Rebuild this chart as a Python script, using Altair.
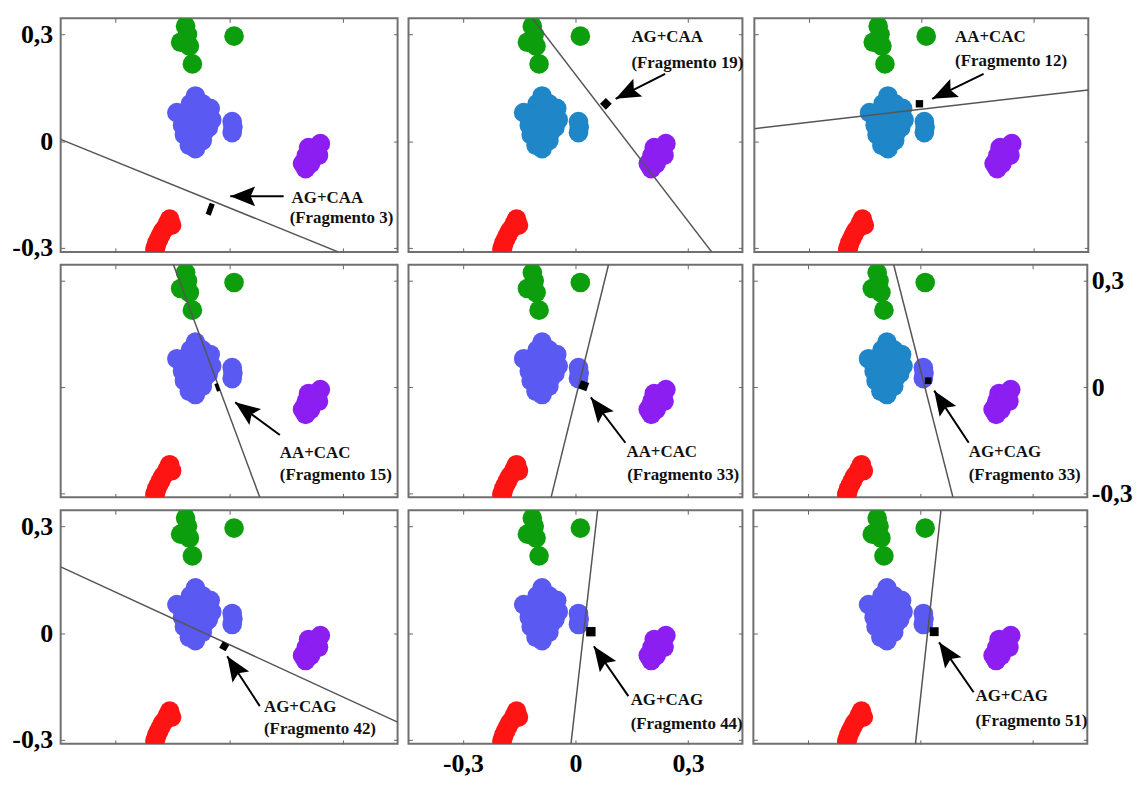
import math
import altair as alt
import pandas as pd

# ---------------- data ----------------
green_x = [-0.115, -0.110, -0.128, -0.105, -0.097, 0.013]
green_y = [0.323, 0.300, 0.278, 0.267, 0.217, 0.295]

blue_x = [-0.089, -0.102, -0.071, -0.128, -0.094, -0.060, -0.110, -0.078, -0.055, -0.118, -0.084, -0.105,
          -0.071, -0.084, -0.110, -0.076, -0.094, -0.063, -0.097, -0.065, -0.123, -0.089,
          -0.138, -0.046, -0.050]
blue_y = [0.127, 0.105, 0.105, 0.077, 0.077, 0.071, 0.049, 0.046, 0.038, 0.018, 0.016, -0.012,
          0.002, 0.105, 0.071, 0.071, 0.044, 0.044, 0.007, 0.027, 0.044, -0.021,
          0.080, 0.060, 0.092]

blue2_x = [0.008, 0.008, 0.010]
blue2_y = [0.055, 0.024, 0.040]

purple_x = [0.241, 0.225, 0.204, 0.194, 0.215, 0.236, 0.210, 0.202, 0.220, 0.210, 0.230, 0.199]
purple_y = [-0.007, -0.023, -0.040, -0.063, -0.063, -0.040, -0.018, -0.077, -0.040, -0.051, -0.018, -0.057]

red_x = [-0.157, -0.152, -0.167, -0.181, -0.191, -0.196, -0.162, -0.175, -0.186, -0.194]
red_y = [-0.219, -0.236, -0.241, -0.264, -0.286, -0.303, -0.230, -0.252, -0.275, -0.297]

# per-panel annotations (row-major, 3 x 3)
label_top = ["AG+CAA", "AG+CAA", "AA+CAC", "AA+CAC", "AA+CAC", "AG+CAG", "AG+CAG", "AG+CAG", "AG+CAG"]
label_bottom = ["(Fragmento 3)", "(Fragmento 19)", "(Fragmento 12)", "(Fragmento 15)", "(Fragmento 33)",
                "(Fragmento 33)", "(Fragmento 42)", "(Fragmento 44)", "(Fragmento 51)"]

line_x1 = [-0.445, -0.115, -0.445, -0.147, 0.088, -0.071, -0.445, 0.059, 0.055]
line_y1 = [0.005, 0.345, 0.035, 0.345, 0.345, 0.345, 0.186, 0.345, 0.345]
line_x2 = [0.288, 0.363, 0.445, 0.081, -0.065, 0.087, 0.445, -0.012, -0.013]
line_y2 = [-0.311, -0.311, 0.144, -0.311, -0.311, -0.311, -0.250, -0.311, -0.311]

marker_x = [-0.050, 0.081, -0.005, -0.031, 0.022, 0.021, -0.013, 0.041, 0.037]
marker_y = [-0.191, 0.105, 0.105, -0.001, 0.004, 0.018, -0.037, 0.004, 0.004]

arrow_tail_x = [0.144, 0.239, 0.166, 0.134, 0.133, 0.129, 0.081, 0.141, 0.142]
arrow_tail_y = [-0.155, 0.189, 0.189, -0.135, -0.157, -0.157, -0.205, -0.177, -0.166]
arrow_tip_x = [0.003, 0.107, 0.029, 0.016, 0.041, 0.037, -0.005, 0.049, 0.050]
arrow_tip_y = [-0.155, 0.119, 0.119, -0.043, -0.029, -0.010, -0.065, -0.037, -0.026]

text1_x = [0.165, 0.149, 0.090, 0.134, 0.136, 0.129, 0.092, 0.147, 0.147]
text1_y = [-0.174, 0.278, 0.278, -0.199, -0.197, -0.197, -0.222, -0.202, -0.191]
text2_x = [0.160, 0.149, 0.090, 0.134, 0.138, 0.129, 0.092, 0.147, 0.147]
text2_y = [-0.230, 0.206, 0.211, -0.261, -0.261, -0.261, -0.283, -0.269, -0.261]

tick_values = [-0.3, 0, 0.3]
tick_labels = ["-0,3", "0", "0,3"]

# ---------------- styles ----------------
GREEN = "#0C9E0C"
SLATE = "#5A5AF2"
STEEL = "#1F86C8"
PURPLE = "#8C1EF2"
RED = "#FF1414"

main_blue = [SLATE, STEEL, STEEL, SLATE, SLATE, STEEL, SLATE, SLATE, SLATE]
small_blue = [SLATE, STEEL, STEEL, SLATE, SLATE, SLATE, SLATE, SLATE, SLATE]

RECT = "M-0.45,-1L0.45,-1L0.45,1L-0.45,1Z"
marker_shape = [RECT, "square", "square", RECT, "square", "square", "square", "square", "square"]
marker_size = [144, 70, 55, 64, 75, 45, 55, 90, 80]
marker_angle = [20, 45, 0, 340, 20, 0, 30, 0, 0]

HEAD = "M0,0L0.4,1L0,0.82L-0.4,1Z"
HEAD_SIZE = 2500

XDOM = [-0.445, 0.445]
YDOM = [-0.311, 0.345]
WIDTHS = [339, 336, 336]
HEIGHTS = [235, 234, 235]
FONT = "Liberation Serif"
DOT_SIZE = 390

label_expr = " : ".join(
    f"abs(datum.value - ({v})) < 0.01 ? '{l}'" for v, l in zip(tick_values, tick_labels)
) + " : ''"


def make_axis(orient, show_labels, label_color="black"):
    kw = dict(
        orient=orient, values=tick_values, domain=False, grid=False, ticks=True,
        tickSize=4, tickColor="#666666", tickWidth=1, offset=-4,
    )
    if show_labels:
        kw.update(labels=True, labelExpr=label_expr, labelFont=FONT, labelFontSize=26,
                  labelFontWeight="bold", labelColor=label_color)
        if orient == "left":
            kw.update(labelPadding=8)
        elif orient == "right":
            kw.update(labelPadding=4)
        else:
            kw.update(labelPadding=7)
    else:
        kw.update(labels=False)
    return alt.Axis(**kw)


def panel(i):
    r, c = divmod(i, 3)
    w, h = WIDTHS[c], HEIGHTS[r]
    xs = alt.Scale(domain=XDOM, nice=False, zero=False)
    ys = alt.Scale(domain=YDOM, nice=False, zero=False)

    rows = []
    for xv, yv in zip(green_x, green_y):
        rows.append({"x": xv, "y": yv, "col": GREEN})
    for xv, yv in zip(blue_x, blue_y):
        rows.append({"x": xv, "y": yv, "col": main_blue[i]})
    for xv, yv in zip(blue2_x, blue2_y):
        rows.append({"x": xv, "y": yv, "col": small_blue[i]})
    for xv, yv in zip(purple_x, purple_y):
        rows.append({"x": xv, "y": yv, "col": PURPLE})
    for xv, yv in zip(red_x, red_y):
        rows.append({"x": xv, "y": yv, "col": RED})
    pts = pd.DataFrame(rows)

    bottom_axis = make_axis("bottom", i == 7)
    left_axis = make_axis("left", c == 0, "black" if r != 1 else "white")
    top_axis = make_axis("top", False)
    right_axis = make_axis("right", i == 5)

    points = alt.Chart(pts).mark_circle(size=DOT_SIZE, opacity=1, clip=True).encode(
        x=alt.X("x:Q", scale=xs, axis=bottom_axis, title=None),
        y=alt.Y("y:Q", scale=ys, axis=left_axis, title=None),
        color=alt.Color("col:N", scale=None),
    )

    line_df = pd.DataFrame({"x": [line_x1[i]], "y": [line_y1[i]], "x2": [line_x2[i]], "y2": [line_y2[i]]})
    line = alt.Chart(line_df).mark_rule(color="#555555", strokeWidth=1.5, clip=True).encode(
        x=alt.X("x:Q", scale=xs, axis=top_axis, title=None),
        y=alt.Y("y:Q", scale=ys, axis=right_axis, title=None),
        x2="x2:Q", y2="y2:Q",
    )

    mk_df = pd.DataFrame({"x": [marker_x[i]], "y": [marker_y[i]], "a": [marker_angle[i]]})
    marker = alt.Chart(mk_df).mark_point(
        shape=marker_shape[i], size=marker_size[i], filled=True, color="black", opacity=1
    ).encode(
        x=alt.X("x:Q", scale=xs, axis=None),
        y=alt.Y("y:Q", scale=ys, axis=None),
        angle=alt.Angle("a:Q", scale=None),
    )

    dx = (arrow_tip_x[i] - arrow_tail_x[i]) * w / (XDOM[1] - XDOM[0])
    dy = -(arrow_tip_y[i] - arrow_tail_y[i]) * h / (YDOM[1] - YDOM[0])
    ang = math.degrees(math.atan2(dx, -dy)) % 360

    ar_df = pd.DataFrame({"x": [arrow_tail_x[i]], "y": [arrow_tail_y[i]],
                          "x2": [arrow_tip_x[i]], "y2": [arrow_tip_y[i]], "a": [ang]})
    shaft = alt.Chart(ar_df).mark_rule(color="black", strokeWidth=2).encode(
        x=alt.X("x:Q", scale=xs, axis=None),
        y=alt.Y("y:Q", scale=ys, axis=None),
        x2="x2:Q", y2="y2:Q",
    )
    head = alt.Chart(ar_df).mark_point(shape=HEAD, size=HEAD_SIZE, filled=True, color="black", opacity=1).encode(
        x=alt.X("x2:Q", scale=xs, axis=None),
        y=alt.Y("y2:Q", scale=ys, axis=None),
        angle=alt.Angle("a:Q", scale=None),
    )

    t_df = pd.DataFrame({"x": [text1_x[i], text2_x[i]], "y": [text1_y[i], text2_y[i]],
                         "t": [label_top[i], label_bottom[i]]})
    texts = alt.Chart(t_df).mark_text(
        align="left", baseline="alphabetic", font=FONT, fontSize=17, fontWeight="bold", color="#111111"
    ).encode(
        x=alt.X("x:Q", scale=xs, axis=None),
        y=alt.Y("y:Q", scale=ys, axis=None),
        text="t:N",
    )

    return alt.layer(points, line, marker, shaft, head, texts).resolve_axis(
        x="independent", y="independent"
    ).properties(width=w, height=h)


rows = [alt.hconcat(*[panel(r * 3 + c) for c in range(3)], spacing=7) for r in range(3)]
chart = alt.vconcat(*rows, spacing=0).properties(
    padding={"left": 2, "top": 6, "right": 0, "bottom": 0},
    background="white",
).configure_view(stroke="#707070", strokeWidth=2)

chart.save("out.html", embed_options={"renderer": "svg", "actions": False})
